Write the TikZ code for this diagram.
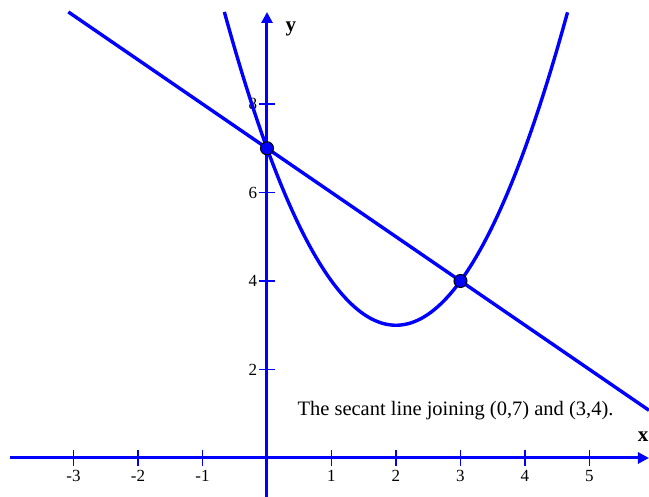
\documentclass[tikz,border=0pt]{standalone}
\usepackage{fontspec}
\setmainfont{Liberation Serif}
\usetikzlibrary{arrows.meta}
\definecolor{cblue}{RGB}{0,0,255}
\tikzset{
  every picture/.style={line width=2.4pt},
  axis/.style={draw=cblue, line width=3pt},
  curve/.style={draw=cblue, line width=3.4pt},
  tick/.style={draw=cblue, line width=1.5pt},
  ticklabel/.style={font=\fontsize{17}{19}\selectfont, inner sep=1pt},
  axislabel/.style={font=\fontsize{21}{23}\selectfont\bfseries},
  dot/.style={fill=cblue, draw=black, line width=1pt},
  note/.style={font=\fontsize{20.5}{23}\selectfont},
}

\begin{document}
\begin{tikzpicture}[x=64.5pt, y=44.25pt]
  \useasboundingbox (-267pt,-39pt) rectangle (382pt,458pt);
  % ---------- axes ----------
  \coordinate (xstart) at (-257pt,0);
  \coordinate (xend) at (382pt,0);
  \coordinate (ystart) at (0,-39pt);
  \coordinate (yend) at (0,446pt);
  \draw[axis, -{Triangle[length=11pt, width=11pt]}] (xstart) -- (xend);
  \draw[axis, -{Triangle[length=11pt, width=11pt]}] (ystart) -- (yend);
  \node[axislabel] (xlab) at (376pt,21pt) {x};
  \node[axislabel] (ylab) at (24pt,429pt) {y};
  \foreach \i in {-3,-2,-1,1,2,3,4,5}
    \draw[tick] (\i,-8pt) -- (\i,8pt) node[ticklabel, pos=0, below=3pt] {\i};
  \foreach \j in {2,4,6,8}
    \draw[tick] (-8pt,\j) -- (8pt,\j) node[ticklabel, pos=0, left=0pt] {\j};
  % ---------- curves ----------
  \draw[curve, domain=-0.661:4.661, samples=120] plot (\x, {\x*\x-4*\x+7});
  \draw[curve] (-3.08,10.08) -- (5.9225,1.0775);
  % ---------- points ----------
  \coordinate (p) at (0,7);
  \coordinate (q) at (3,4);
  \filldraw[dot] (p) circle (6.5pt);
  \filldraw[dot] (q) circle (6.5pt);
  \node[note, anchor=west] (cap) at (26pt,47pt) {The secant line joining (0,7) and (3,4).};
\end{tikzpicture}
\end{document}
